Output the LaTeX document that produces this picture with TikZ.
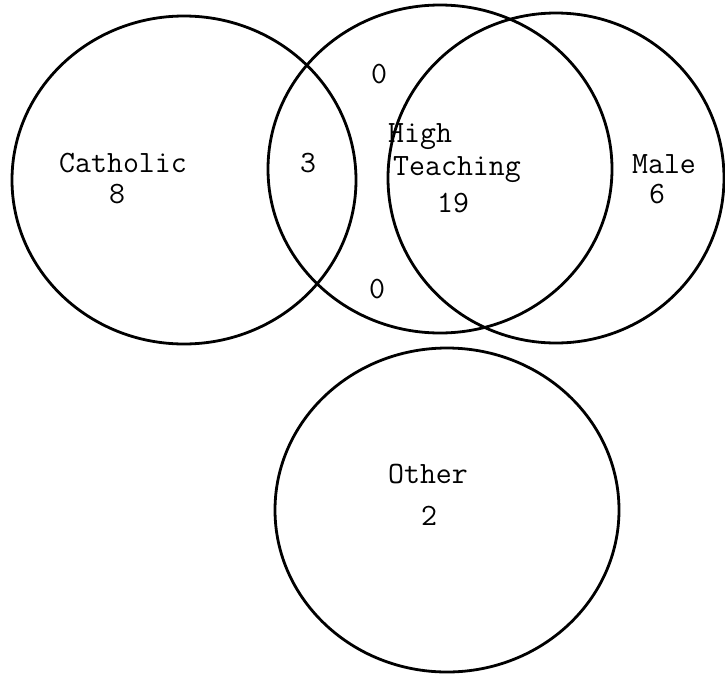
\documentclass[tikz,border=0pt]{standalone}
\usepackage{fontspec}
\begin{document}
\begin{tikzpicture}[x=1pt,y=-1pt,
  ring/.style={draw=black,line width=2.8pt},
  lbl/.style={font=\ttfamily\fontsize{31}{34}\selectfont,inner sep=0pt,anchor=base}]
\useasboundingbox[fill=white] (0,0) rectangle (725,675);
% circles
\draw[ring] (184,180) ellipse [x radius=172, y radius=164];
\draw[ring] (440,169) ellipse [x radius=172, y radius=164];
\draw[ring] (556,178) ellipse [x radius=168, y radius=165];
\draw[ring] (447,510) ellipse [x radius=172, y radius=162];
% labels
\node[lbl] (cath) at (123,172) {Catholic};
\node[lbl] (cathn) at (117,203) {8};
\node[lbl] (ch) at (308,172) {3};
\node[lbl] (top0) at (379,83) {0};
\node[lbl] (bot0) at (377,298) {0};
\node[lbl,anchor=base west] (high) at (388,142) {High};
\node[lbl] (teach) at (457,175) {Teaching};
\node[lbl] (teachn) at (453,212) {19};
\node[lbl] (male) at (664,173) {Male};
\node[lbl] (malen) at (657,203) {6};
\node[lbl] (other) at (428,483) {Other};
\node[lbl] (othern) at (429,525) {2};
\end{tikzpicture}
\end{document}
